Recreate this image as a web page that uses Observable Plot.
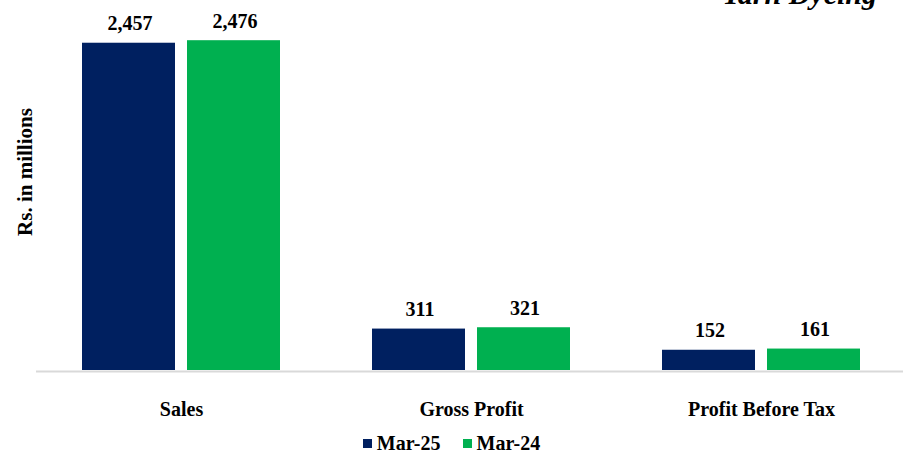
<!DOCTYPE html>
<html><head><meta charset="utf-8">
<script src="https://cdn.jsdelivr.net/npm/d3@7"></script>
<script src="https://cdn.jsdelivr.net/npm/@observablehq/plot@0.6"></script>
<style>
body{margin:0;background:#fff;}
#wrap{position:relative;width:903px;height:452px;overflow:hidden;font-family:"Liberation Serif","Times New Roman",serif;color:#000;}
#wrap svg, #wrap svg text{font-family:"Liberation Serif","Times New Roman",serif !important;}
#title{position:absolute;right:26px;top:-21px;font:italic bold 30px/30px "Liberation Serif","Times New Roman",serif;color:#000;white-space:nowrap;}
#legend{display:flex;justify-content:center;}
#legend > div{min-height:0 !important;height:24px;margin:3px 0 0 0 !important;font:bold 20px "Liberation Serif","Times New Roman",serif !important;color:#000 !important;}
#legend span{margin-right:22px !important;font:bold 20px "Liberation Serif","Times New Roman",serif !important;}
#legend span:last-child{margin-right:0 !important;}
#legend svg{margin-right:5px !important;}
</style></head><body>
<div id="wrap"><div id="chart"></div><div id="legend"></div><div id="title"></div></div>
<script>
const title = "Yarn Dyeing";
const yLabel = "Rs. in millions";
const categories = ["Sales", "Gross Profit", "Profit Before Tax"];
const series = ["Mar-25", "Mar-24"];
const mar25 = [2457, 311, 152];
const mar24 = [2476, 321, 161];
const colors = ["#002060", "#00B050"];

const seriesValues = [mar25, mar24];
const data = [];
categories.forEach((c, i) => series.forEach((s, j) => data.push({category: c, series: s, value: seriesValues[j][i]})));

const fmt = d3.format(",");
const plot = Plot.plot({
  width: 903,
  height: 428,
  marginLeft: 38,
  marginRight: 0,
  marginTop: 37,
  marginBottom: 58,
  style: {fontFamily: "'Liberation Serif', 'Times New Roman', serif", fontWeight: "bold", color: "#000", background: "#fff"},
  fx: {domain: categories, paddingInner: 0.2345, paddingOuter: 0.108, axis: null},
  x: {domain: series, padding: 0.114, axis: null},
  y: {domain: [0, 2500], axis: null},
  color: {domain: series, range: colors},
  marks: [
    Plot.ruleY([0], {stroke: "#d9d9d9", strokeWidth: 2, dy: 1, insetLeft: -34, insetRight: -34}),
    Plot.barY(data, {fx: "category", x: "series", y: "value", fill: "series"}),
    Plot.text(data, {fx: "category", x: "series", y: "value", text: d => fmt(d.value), lineAnchor: "bottom", dy: -13, dx: 1, fontSize: 20, fontWeight: "bold", fill: "#000"}),
    Plot.axisFx({anchor: "bottom", tickSize: 0, tickPadding: 31, label: null, fontSize: 20, fontWeight: "bold", fill: "#000"}),
    Plot.text([yLabel], {frameAnchor: "left", textAnchor: "middle", rotate: -90, dx: -45, dy: -32, fontSize: 21, fontWeight: "bold", fill: "#000", facet: "super"})
  ]
});
document.getElementById("chart").appendChild(plot);
document.getElementById("legend").appendChild(plot.legend("color", {swatchSize: 9}));
document.getElementById("title").textContent = title;
</script>
</body></html>
